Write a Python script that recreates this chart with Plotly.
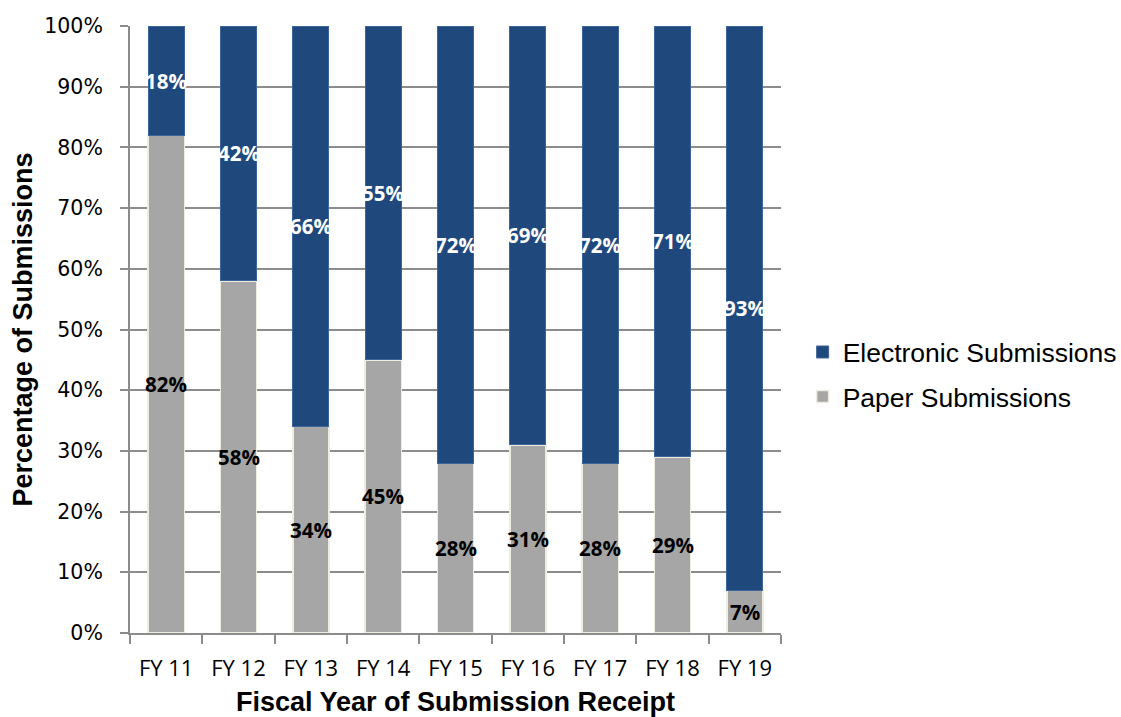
import plotly.graph_objects as go

categories = ["FY 11", "FY 12", "FY 13", "FY 14", "FY 15", "FY 16", "FY 17", "FY 18", "FY 19"]
paper = [82, 58, 34, 45, 28, 31, 28, 29, 7]
electronic = [18, 42, 66, 55, 72, 69, 72, 71, 93]

ELEC_COLOR = "#1F497D"
PAPER_COLOR = "#A6A6A6"
GRID = "#8C8C8C"

fig = go.Figure()
fig.add_trace(go.Bar(
    x=categories, y=[v / 100 for v in paper], name="Paper Submissions",
    marker=dict(color=PAPER_COLOR, line=dict(color="#EEECE1", width=1.5)),
    legendgroup="p", legendrank=2, hoverinfo="skip",
))
fig.add_trace(go.Bar(
    x=categories, y=[v / 100 for v in electronic], name="Electronic Submissions",
    marker=dict(color=ELEC_COLOR, line=dict(color="#3C659B", width=1)),
    legendgroup="e", legendrank=1, hoverinfo="skip",
))

annotations = []
for c, p, e in zip(categories, paper, electronic):
    annotations.append(dict(x=c, y=p / 200, xref="x", yref="y", text=f"{p}%", showarrow=False,
                            font=dict(family="Open Sans", size=20.5, color="black", weight="bold")))
    annotations.append(dict(x=c, y=(p + e / 2) / 100, xref="x", yref="y", text=f"{e}%", showarrow=False,
                            font=dict(family="Open Sans", size=20.5, color="white", weight="bold")))

fig.update_layout(
    width=1121, height=717,
    margin=dict(l=130, r=340, t=26, b=84),
    barmode="stack", bargap=0.5,
    plot_bgcolor="white", paper_bgcolor="white",
    annotations=annotations,
    showlegend=True,
    legend=dict(
        xref="container", yref="container",
        x=0.716, y=0.478, xanchor="left", yanchor="middle",
        traceorder="grouped", tracegroupgap=7,
        font=dict(family="Liberation Sans", size=26.5, color="black"),
        bgcolor="rgba(0,0,0,0)",
    ),
    xaxis=dict(
        type="category", tickson="boundaries", ticks="outside", ticklen=9, tickwidth=2,
        tickcolor=GRID, showline=True, linecolor=GRID, linewidth=2,
        tickfont=dict(family="Open Sans", size=22, color="black"),
        ticklabelstandoff=15, automargin=False,
        title=dict(text="Fiscal Year of Submission Receipt", standoff=17,
                   font=dict(family="Liberation Sans", size=27, color="black", weight="bold")),
        showgrid=False,
    ),
    yaxis=dict(
        range=[0, 1], dtick=0.1, tickformat=".0%", ticks="outside", ticklen=8, tickwidth=2,
        tickcolor=GRID, showline=True, linecolor=GRID, linewidth=2,
        showgrid=True, gridcolor=GRID, gridwidth=2,
        tickfont=dict(family="DejaVu Sans", size=20.5, color="black"),
        ticklabelstandoff=13, automargin=False,
        title=dict(text="Percentage of Submissions", standoff=4,
                   font=dict(family="Liberation Sans", size=27, color="black", weight="bold")),
        zeroline=False,
    ),
)

fig.write_html("out.html")
